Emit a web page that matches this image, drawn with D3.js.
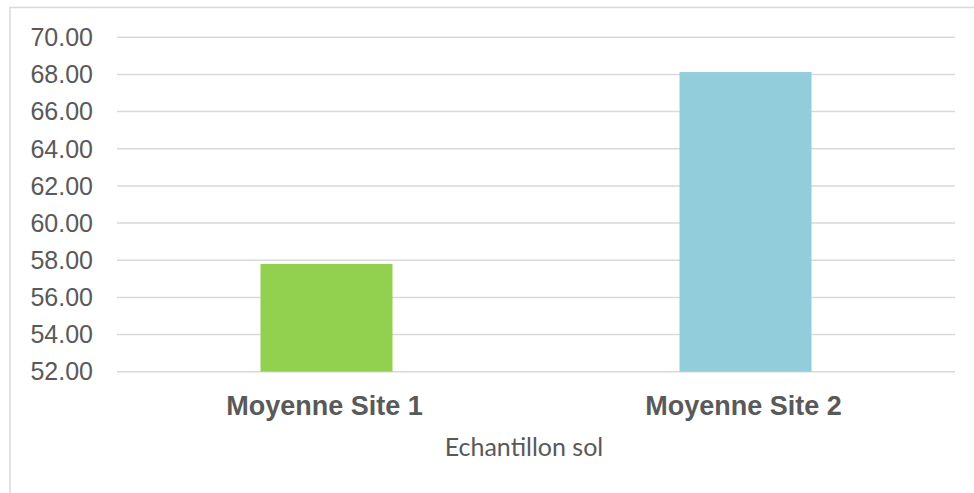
<!doctype html>
<html>
<head>
<script src="https://cdnjs.cloudflare.com/ajax/libs/d3/7.8.5/d3.min.js"></script>
<style>
body { margin: 0; background: #fff; }
svg { display: block; }
.tick-label { font-family: "Liberation Sans", Arial, sans-serif; font-size: 25px; fill: #595959; }
.cat-label { font-family: "Liberation Sans", Arial, sans-serif; font-size: 27px; font-weight: bold; fill: #595959; }
.axis-title { font-family: Lato, "Open Sans", sans-serif; font-size: 25px; fill: #595959; }
</style>
</head>
<body>
<svg id="chart" width="974" height="493"></svg>
<script>
// data
var categories = ["Moyenne Site 1", "Moyenne Site 2"];
var values = [57.80, 68.13];
var barColors = ["#92d050", "#92cddc"];
var yTicks = [52, 54, 56, 58, 60, 62, 64, 66, 68, 70];
var xTitle = "Echantillon sol";

var svg = d3.select("#chart");

// chart area border (only top and left are visible in the crop)
svg.append("rect")
  .attr("x", 10).attr("y", 7.5)
  .attr("width", 1000).attr("height", 600)
  .attr("fill", "none")
  .attr("stroke", "#d9d9d9")
  .attr("stroke-width", 1.5);

var plot = { left: 117, right: 955, top: 37.3, bottom: 371.7 };

var y = d3.scaleLinear()
  .domain([52, 70])
  .range([plot.bottom, plot.top]);

var x = d3.scaleBand()
  .domain(categories)
  .range([plot.left, plot.right])
  .padding(0);

var barW = x.bandwidth() * 0.315;

// gridlines
svg.append("g").selectAll("line")
  .data(yTicks)
  .enter().append("line")
  .attr("x1", plot.left).attr("x2", plot.right)
  .attr("y1", d => y(d)).attr("y2", d => y(d))
  .attr("stroke", "#d9d9d9")
  .attr("stroke-width", 1.5);

// y tick labels
svg.append("g").selectAll("text")
  .data(yTicks)
  .enter().append("text")
  .attr("class", "tick-label")
  .attr("x", 93)
  .attr("y", d => y(d))
  .attr("dy", "0.35em")
  .attr("text-anchor", "end")
  .text(d => d3.format(".2f")(d));

// bars
svg.append("g").selectAll("rect")
  .data(values)
  .enter().append("rect")
  .attr("x", (d, i) => x(categories[i]) + x.bandwidth() / 2 - barW / 2)
  .attr("y", d => y(d))
  .attr("width", barW)
  .attr("height", d => plot.bottom - y(d))
  .attr("fill", (d, i) => barColors[i]);

// category labels
svg.append("g").selectAll("text")
  .data(categories)
  .enter().append("text")
  .attr("class", "cat-label")
  .attr("x", d => x(d) + x.bandwidth() / 2 - 2)
  .attr("y", 415)
  .attr("text-anchor", "middle")
  .text(d => d);

// axis title
svg.append("text")
  .attr("class", "axis-title")
  .attr("x", 524)
  .attr("y", 456)
  .attr("text-anchor", "middle")
  .text(xTitle);
</script>
</body>
</html>
